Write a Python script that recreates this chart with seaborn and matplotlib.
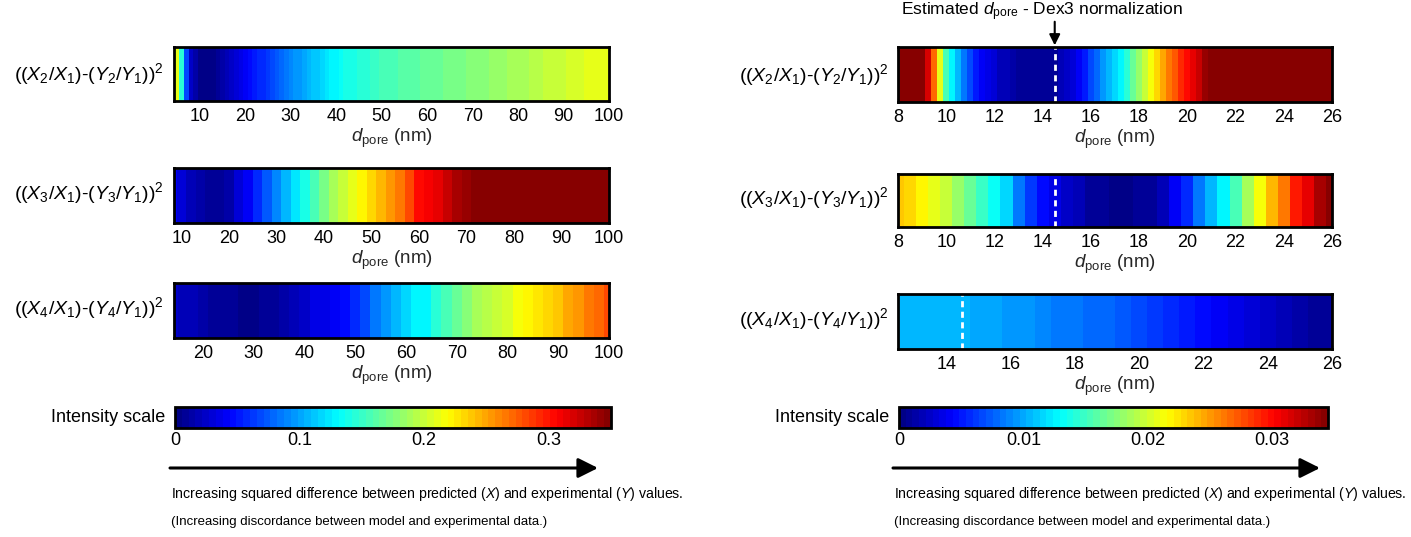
import numpy as np
import pandas as pd
import seaborn as sns
import matplotlib as mpl
import matplotlib.pyplot as plt

# ---- data: squared difference along pore diameter (nm) ----
# left column, intensity scale 0 - 0.35
left_x1 = np.arange(4, 101, 1)
left_v1 = [0.224, 0.210, 0.147, 0.070, 0.025, 0.011, 0.005, 0.004, 0.004, 0.004,
           0.007, 0.011, 0.018, 0.025, 0.032, 0.037, 0.042, 0.046, 0.051, 0.056,
           0.060, 0.065, 0.070, 0.074, 0.079, 0.084, 0.088, 0.093, 0.098, 0.102,
           0.105, 0.110, 0.114, 0.119, 0.123, 0.126, 0.130, 0.133, 0.137, 0.138,
           0.140, 0.144, 0.145, 0.147, 0.151, 0.152, 0.154, 0.155, 0.156, 0.158,
           0.159, 0.161, 0.162, 0.163, 0.164, 0.165, 0.166, 0.167, 0.168, 0.169,
           0.170, 0.171, 0.172, 0.173, 0.174, 0.175, 0.176, 0.177, 0.178, 0.180,
           0.181, 0.182, 0.183, 0.185, 0.186, 0.187, 0.189, 0.190, 0.191, 0.193,
           0.194, 0.195, 0.197, 0.198, 0.199, 0.200, 0.202, 0.203, 0.204, 0.205,
           0.206, 0.208, 0.209, 0.210, 0.211, 0.212, 0.213]
left_x2 = np.arange(8, 101, 2)
left_v2 = [0.039, 0.028, 0.018, 0.011, 0.007, 0.007, 0.014, 0.028, 0.042, 0.056,
           0.074, 0.088, 0.105, 0.123, 0.140, 0.158, 0.172, 0.186, 0.200, 0.210,
           0.222, 0.231, 0.242, 0.252, 0.264, 0.280, 0.301, 0.308, 0.317, 0.326,
           0.334, 0.343, 0.350, 0.37, 0.38, 0.39, 0.40, 0.41, 0.42, 0.43,
           0.44, 0.45, 0.46, 0.47, 0.48, 0.49, 0.50]
left_x3 = np.arange(14, 101, 2)
left_v3 = [0.022, 0.020, 0.017, 0.013, 0.010, 0.007, 0.006, 0.005, 0.005, 0.006,
           0.008, 0.012, 0.017, 0.027, 0.033, 0.038, 0.043, 0.049, 0.056, 0.070,
           0.084, 0.098, 0.109, 0.119, 0.126, 0.131, 0.144, 0.158, 0.168, 0.179,
           0.186, 0.193, 0.200, 0.207, 0.214, 0.219, 0.226, 0.233, 0.240, 0.249,
           0.256, 0.263, 0.271, 0.280]

# right column (Dex3 normalization), intensity scale 0 - 0.0345
right_x1 = np.arange(8, 26.01, 0.25)
right_v1 = [0.0414, 0.0414, 0.0397, 0.0380, 0.0362, 0.0317, 0.0269, 0.0207,
            0.0155, 0.0124, 0.0104, 0.0083, 0.0066, 0.0052, 0.0041, 0.0035,
            0.0028, 0.0021, 0.0017, 0.0014, 0.0010, 0.0009, 0.0007, 0.0007,
            0.0007, 0.0009, 0.0010, 0.0017, 0.0024, 0.0031, 0.0041, 0.0052,
            0.0066, 0.0079, 0.0093, 0.0107, 0.0117, 0.0128, 0.0145, 0.0162,
            0.0179, 0.0197, 0.0214, 0.0231, 0.0245, 0.0259, 0.0273, 0.0286,
            0.0300, 0.0311, 0.0321, 0.0335, 0.0345,
            0.036, 0.038, 0.040, 0.042, 0.044, 0.046, 0.048, 0.050, 0.052, 0.054,
            0.056, 0.058, 0.060, 0.062, 0.064, 0.066, 0.068, 0.070, 0.072, 0.074]
right_x2 = np.arange(8, 26.01, 0.5)
right_v2 = [0.0233, 0.0230, 0.0219, 0.0207, 0.0197, 0.0183, 0.0166, 0.0148,
            0.0131, 0.0114, 0.0086, 0.0062, 0.0045, 0.0035, 0.0024, 0.0017,
            0.0010, 0.0007, 0.0005, 0.0005, 0.0007, 0.0010, 0.0017, 0.0041,
            0.0059, 0.0083, 0.0104, 0.0128, 0.0155, 0.0186, 0.0214, 0.0238,
            0.0262, 0.0293, 0.0311, 0.0331, 0.0345]
right_x3 = np.arange(12.5, 26.01, 0.5)
right_v3 = [0.0106, 0.0106, 0.0105, 0.0104, 0.0103, 0.0101, 0.0099, 0.0097,
            0.0093, 0.0090, 0.0086, 0.0083, 0.0079, 0.0076, 0.0072, 0.0067,
            0.0062, 0.0057, 0.0052, 0.0047, 0.0041, 0.0036, 0.0031, 0.0026,
            0.0021, 0.0016, 0.0010, 0.0007]

left_vmax, right_vmax = 0.35, 0.0345
left_cticks = [0, 0.1, 0.2, 0.3]
right_cticks = [0, 0.01, 0.02, 0.03]
dex3_dpore = 14.5

row_labels = [r'$((X_{\mathit{2}}/X_{\mathit{1}})$-$(Y_{\mathit{2}}/Y_{\mathit{1}}))^2$',
              r'$((X_{\mathit{3}}/X_{\mathit{1}})$-$(Y_{\mathit{3}}/Y_{\mathit{1}}))^2$',
              r'$((X_{\mathit{4}}/X_{\mathit{1}})$-$(Y_{\mathit{4}}/Y_{\mathit{1}}))^2$']

sns.set_style('white')
plt.rcParams['font.family'] = ['Liberation Sans', 'DejaVu Sans']
plt.rcParams['mathtext.fontset'] = 'custom'
plt.rcParams['mathtext.rm'] = 'Liberation Sans'
plt.rcParams['mathtext.it'] = 'Liberation Sans:italic'
plt.rcParams['mathtext.bf'] = 'Liberation Sans:bold'
plt.rcParams['text.color'] = 'black'

# MATLAB-style jet with 64 levels
t = (np.arange(64) + 0.5) / 64
jet_rgb = np.clip(np.stack([1.5 - np.abs(4 * t - 3),
                            1.5 - np.abs(4 * t - 2),
                            1.5 - np.abs(4 * t - 1)], axis=1), 0, 1)
jet = mpl.colors.ListedColormap(jet_rgb)
FS = 13


def strip(ax, x, vals, xlim, ticks, vmax, dashed=None):
    step = x[1] - x[0]
    df = pd.DataFrame([vals], columns=np.round(x, 2))
    sns.heatmap(df, ax=ax, cmap=jet, vmin=0, vmax=vmax, cbar=False,
                xticklabels=False, yticklabels=False)
    pos = lambda v: (np.asarray(v, dtype=float) - x[0]) / step + 0.5
    ax.set_xlim(pos(xlim[0]), pos(xlim[1]))
    ax.set_xticks(pos(ticks))
    ax.set_xticklabels([f'{t:g}' for t in ticks])
    ax.set_yticks([0.5])
    ax.set_yticklabels([])
    ax.tick_params(direction='in', top=True, right=True, left=True, bottom=True,
                   length=3, width=1, labelsize=FS, pad=5, colors='black')
    for s in ax.spines.values():
        s.set_visible(True)
        s.set_linewidth(2)
        s.set_color('black')
    ax.set_xlabel(r'$d_{\mathrm{pore}}$ (nm)', fontsize=13.5, labelpad=1)
    if dashed is not None:
        ax.axvline(pos(dashed), color='white', lw=2, ls=(0, (2.2, 1.6)))
    return pos


fig = plt.figure(figsize=(14.11, 5.37), dpi=100)
fig.patch.set_facecolor('white')

W = 1411.0
H = 537.0


def box(x0, y0, x1, y1):
    return [x0 / W, 1 - y1 / H, (x1 - x0) / W, (y1 - y0) / H]


ax_l1 = fig.add_axes(box(174, 47, 609, 101))
ax_l2 = fig.add_axes(box(174, 168, 609, 223))
ax_l3 = fig.add_axes(box(174, 283, 609, 338))
ax_r1 = fig.add_axes(box(898, 47, 1332, 102))
ax_r2 = fig.add_axes(box(898, 174, 1332, 227))
ax_r3 = fig.add_axes(box(898, 294, 1332, 349))

strip(ax_l1, left_x1, left_v1, (4.3, 100), list(range(10, 101, 10)), left_vmax)
strip(ax_l2, left_x2, left_v2, (8.4, 100), list(range(10, 101, 10)), left_vmax)
strip(ax_l3, left_x3, left_v3, (14.3, 100), list(range(20, 101, 10)), left_vmax)
pos_r1 = strip(ax_r1, right_x1, right_v1, (8, 26), list(range(8, 27, 2)), right_vmax, dex3_dpore)
strip(ax_r2, right_x2, right_v2, (8, 26), list(range(8, 27, 2)), right_vmax, dex3_dpore)
strip(ax_r3, right_x3, right_v3, (12.5, 26), list(range(14, 27, 2)), right_vmax, dex3_dpore)

# row labels
for lab, yc in zip(row_labels, [74, 193, 308]):
    fig.text(164 / W, 1 - yc / H, lab, ha='right', va='center', fontsize=14)
for lab, yc in zip(row_labels, [75, 198, 319]):
    fig.text(889 / W, 1 - yc / H, lab, ha='right', va='center', fontsize=14)

# estimated d_pore marker
fig.text(1042 / W, 1 - 12 / H, r'Estimated $d_{\mathrm{pore}}$ - Dex3 normalization',
         ha='center', va='center', fontsize=12.5)
ax_r1.annotate('', xy=(pos_r1(dex3_dpore), 1.03), xycoords=('data', 'axes fraction'),
               xytext=(0, 17), textcoords='offset points',
               arrowprops=dict(arrowstyle='-|>', lw=1.5, color='black',
                               mutation_scale=16, shrinkA=0, shrinkB=0))

# colour bars
for x0, x1, src, ticks in [(175, 611, ax_l1, left_cticks), (899, 1328, ax_r1, right_cticks)]:
    cax = fig.add_axes(box(x0, 407, x1, 428))
    cb = fig.colorbar(src.collections[0], cax=cax, orientation='horizontal')
    cb.set_ticks(ticks)
    cb.set_ticklabels([f'{t:g}' for t in ticks])
    cb.outline.set_linewidth(2)
    cb.outline.set_edgecolor('black')
    cax.tick_params(direction='in', length=3, width=1, labelsize=FS, pad=3,
                    top=True, bottom=True, colors='black')
    fig.text((x0 - 10) / W, 1 - 418 / H, 'Intensity scale', ha='right', va='center',
             fontsize=13)

# direction arrows and notes
for xa, xb in [(170, 598), (893, 1320)]:
    fig.add_artist(mpl.patches.FancyArrowPatch((xa / W, 1 - 468 / H), (xb / W, 1 - 468 / H),
                                               transform=fig.transFigure,
                                               arrowstyle='-|>', lw=2.2, color='black',
                                               mutation_scale=30, shrinkA=0, shrinkB=0))
    fig.text((xa + 1) / W, 1 - 494 / H,
             r'Increasing squared difference between predicted ($X$) and experimental ($Y$) values.',
             ha='left', va='center', fontsize=10.2)
    fig.text((xa + 1) / W, 1 - 522 / H,
             '(Increasing discordance between model and experimental data.)',
             ha='left', va='center', fontsize=9.5)

fig.savefig('out.png', dpi=100, facecolor='white')
